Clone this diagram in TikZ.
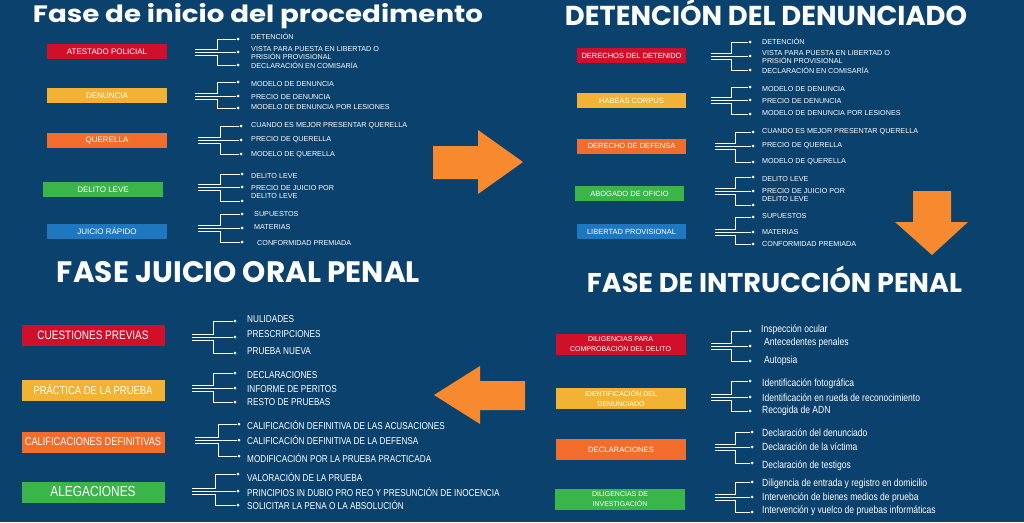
\documentclass[tikz,border=0pt]{standalone}
\usepackage{graphicx}
\usepackage{fontspec}
\setmainfont{Liberation Sans}
\newfontfamily\narrowfont{Liberation Sans}[FakeStretch=0.82]
\newfontfamily\titlefont{Poppins}
\usepackage{tikz}
\usetikzlibrary{positioning}

\definecolor{bg}{HTML}{0B416D}
\definecolor{cred}{HTML}{D0102B}
\definecolor{cyellow}{HTML}{F2B233}
\definecolor{corange}{HTML}{F26C2C}
\definecolor{cgreen}{HTML}{3AB54A}
\definecolor{cblue}{HTML}{1E77BF}
\definecolor{carrow}{HTML}{F7892F}

\tikzset{
  title/.style={anchor=base, inner sep=0pt, text=white, font=\titlefont\bfseries},
  box/.style={inner sep=0pt, text=white, align=center},
  boxtl/.style={box, minimum width=120pt, minimum height=15pt, font=\fontsize{8}{9}\selectfont},
  boxtr/.style={box, minimum width=109pt, minimum height=15pt, font=\fontsize{7.5}{9}\selectfont},
  boxbl/.style={box, minimum width=143pt, minimum height=21pt, font=\narrowfont\fontsize{11.5}{13}\selectfont},
  boxbr/.style={box, minimum width=130pt, minimum height=21pt, font=\fontsize{7}{10}\selectfont},
  dot/.style={circle, fill=white, inner sep=0pt, minimum size=3pt},
  wire/.style={white, line width=0.9pt},
  item/.style={anchor=west, inner sep=0pt, text=white, align=left, font=\fontsize{7.2}{8}\selectfont},
  bigitem/.style={item, font=\narrowfont\fontsize{10}{11}\selectfont},
  bigarrow/.style={fill=carrow}
}

\begin{document}
\begin{tikzpicture}[x=1pt, y=-1pt]
\useasboundingbox (0,0) rectangle (1024,522);
\fill[bg] (0,0) rectangle (1024,522);

% titles
\node[title] (title1) at (258,22) {\resizebox{450pt}{19pt}{Fase de inicio del procedimento}};
\node[title] (title2) at (766,25) {\resizebox{402pt}{!}{DETENCIÓN DEL DENUNCIADO}};
\node[title] (title3) at (238.5,282) {\resizebox{363pt}{!}{FASE JUICIO ORAL PENAL}};
\node[title] (title4) at (774.5,292) {\resizebox{375pt}{!}{FASE DE INTRUCCIÓN PENAL}};

% coloured boxes
\foreach \nm/\x/\y/\col/\txt in {atestado/107/51.5/cred/ATESTADO POLICIAL, denuncia/107/95.5/cyellow/DENUNCIA, querella/107/140.5/corange/QUERELLA, leve/103/189.5/cgreen/DELITO LEVE, rapido/107/231.5/cblue/JUICIO RÁPIDO}
  \node[boxtl, fill=\col] (\nm) at (\x,\y) {\txt};

\foreach \nm/\x/\y/\col/\txt in {derechos/631.5/55.5/cred/DERECHOS DEL DETENIDO, habeas/631.5/100.5/cyellow/HABEAS CORPUS, defensa/631.5/146/corange/DERECHO DE DEFENSA, oficio/629.5/193.5/cgreen/ABOGADO DE OFICIO, libertad/631.5/231.5/cblue/LIBERTAD PROVISIONAL}
  \node[boxtr, fill=\col] (\nm) at (\x,\y) {\txt};

\foreach \nm/\x/\y/\col/\txt in {previas/93/335.5/cred/{\fontsize{12.2}{14}\selectfont CUESTIONES PREVIAS}, practica/93/390/cyellow/PRÁCTICA DE LA PRUEBA, calif/93/442/corange/{\fontsize{11.3}{13}\selectfont CALIFICACIONES DEFINITIVAS}, alegaciones/93/492/cgreen/{\fontsize{14.5}{16}\selectfont ALEGACIONES}}
  \node[boxbl, fill=\col] (\nm) at (\x,\y) {\txt};

\foreach \nm/\x/\y/\col/\txt in {comprobacion/620.5/344.5/cred/{DILIGENCIAS PARA\\COMPROBACIÓN DEL DELITO}, identificacion/621/398/cyellow/{IDENTIFICACIÓN DEL\\DENUNCIADO}, declaraciones/621/449.5/corange/{\fontsize{7.7}{10}\selectfont DECLARACIONES}, investigacion/620/499/cgreen/{DILIGENCIAS DE\\INVESTIGACIÓN}}
  \node[boxbr, fill=\col] (\nm) at (\x,\y) {\txt};

% brackets
\foreach \g/\xa/\xb/\xc/\ya/\ym/\yb in {a/195/217/238/39/52/65, b/195/217/238/82/96/108, c/198/220/241/126/140/154, d/198/220/242/174/187/201, e/198/220/242/214/228/242,
    f/711/731/750/42/56/70, g/711/731/750/87/100/114, h/715/735/753/132/146/162, i/715/735/753/177/191/205, j/715/735/753/217/232/244,
    k/192/213/235/321/337/353, l/192/213/235/373/388/402, m/195/218/239/424/440/456, n/192/215/238/474/491/505,
    o/711/731/750/331/346/361, p/711/731/750/381/397/411, q/715/735/752/432/447/463, r/715/735/752/482/497/512} {
  \node[dot] (\g1) at (\xc,\ya) {};
  \node[dot] (\g2) at (\xc,\ym) {};
  \node[dot] (\g3) at (\xc,\yb) {};
  \coordinate (\g-s1) at (\xa,\ym-3);
  \coordinate (\g-s2) at (\xa,\ym);
  \coordinate (\g-s3) at (\xa,\ym+3);
  \draw[wire] (\g-s1) -- (\xb,\ym-3) |- (\g1);
  \draw[wire] (\g-s2) -- (\g2);
  \draw[wire] (\g-s3) -- (\xb,\ym+3) |- (\g3);
}

% item texts
\foreach \nm/\x/\y/\txt in {ta1/251/36/DETENCIÓN, ta2/251/53/{VISTA  PARA PUESTA EN LIBERTAD O\\PRISIÓN PROVISIONAL}, ta3/251/65/DECLARACIÓN EN COMISARÍA,
    tb1/251/84/MODELO DE DENUNCIA, tb2/251/97/PRECIO DE DENUNCIA, tb3/251/107/MODELO DE DENUNCIA POR LESIONES,
    tc1/251/126/CUANDO ES MEJOR PRESENTAR QUERELLA, tc2/251/140/PRECIO DE QUERELLA, tc3/251/155/MODELO DE QUERELLA,
    td1/251/176/DELITO LEVE, td2/251/192/{PRECIO DE JUICIO POR\\DELITO LEVE},
    te1/254/214/SUPUESTOS, te2/254/227/MATERIAS, te3/257/243/CONFORMIDAD PREMIADA,
    tf1/762/41/DETENCIÓN, tf2/762/57/{VISTA  PARA PUESTA EN LIBERTAD O\\PRISIÓN PROVISIONAL}, tf3/762/70/DECLARACIÓN EN COMISARÍA,
    tg1/762/89/MODELO DE DENUNCIA, tg2/762/101/PRECIO DE DENUNCIA, tg3/762/113/MODELO DE DENUNCIA POR LESIONES,
    th1/762/132/CUANDO ES MEJOR PRESENTAR QUERELLA, th2/762/146/PRECIO DE QUERELLA, th3/762/162/MODELO DE QUERELLA,
    ti1/762/179/DELITO LEVE, ti2/762/195/{PRECIO DE JUICIO POR\\DELITO LEVE},
    tj1/762/216/SUPUESTOS, tj2/762/232/MATERIAS, tj3/762/244/CONFORMIDAD PREMIADA}
  \node[item] (\nm) at (\x,\y) {\txt};

\foreach \nm/\x/\y/\txt in {tk1/247/319/NULIDADES, tk2/247/334/PRESCRIPCIONES, tk3/247/351/PRUEBA NUEVA,
    tl1/247/375/DECLARACIONES, tl2/247/389/INFORME DE PERITOS, tl3/247/402/RESTO DE PRUEBAS,
    tm1/247/425/CALIFICACIÓN DEFINITIVA DE LAS ACUSACIONES, tm2/247/440/CALIFICACIÓN DEFINITIVA DE LA DEFENSA, tm3/247/458/MODIFICACIÓN POR LA PRUEBA PRACTICADA,
    tn1/247/477/VALORACIÓN DE LA PRUEBA, tn2/247/492/PRINCIPIOS IN DUBIO PRO REO Y  PRESUNCIÓN DE INOCENCIA, tn3/247/505/SOLICITAR LA PENA O LA ABSOLUCIÓN}
  \node[bigitem] (\nm) at (\x,\y) {\txt};

\foreach \nm/\x/\y/\txt in {to1/761/330/Inspección ocular, to2/764/343/Antecedentes penales, to3/764/361/Autopsia,
    tp1/762/384/Identificación fotográfica, tp2/762/398/Identificación en rueda de reconocimiento, tp3/762/411/Recogida de ADN,
    tq1/762/433/Declaración del denunciado, tq2/762/447/Declaración de la víctima, tq3/762/466/Declaración de testigos,
    tr1/762/484/Diligencia de entrada y registro en domicilio, tr2/762/498/Intervención de bienes medios de prueba, tr3/762/511/Intervención y vuelco de pruebas informáticas}
  \node[bigitem, font=\narrowfont\fontsize{10.4}{11}\selectfont] (\nm) at (\x,\y) {\txt};

% big arrows between the phases
\fill[bigarrow] (433,146) -- (478,146) -- (478,130) -- (523,162) -- (478,194) -- (478,179) -- (433,179) -- cycle;
\fill[bigarrow] (913,191) -- (951,191) -- (951,222) -- (968,222) -- (932,255) -- (895,222) -- (913,222) -- cycle;
\fill[bigarrow] (525,381) -- (480,381) -- (480,366) -- (434,395) -- (480,424) -- (480,410) -- (525,410) -- cycle;
\end{tikzpicture}
\end{document}
